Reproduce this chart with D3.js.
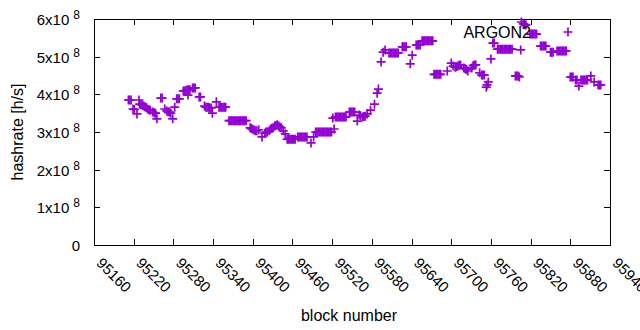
<!DOCTYPE html>
<html><head><meta charset="utf-8">
<script src="https://cdn.jsdelivr.net/npm/d3@7"></script>
<style>
body{margin:0;background:#fff}
text{font-family:"Liberation Sans",Arial,sans-serif;fill:#000}
</style>
</head><body>
<svg id="chart" width="640" height="330"></svg>
<script>
// block numbers and hashrate (h/s)
const blocks = [
 95212,95214,95216,95219,95221,95225,95228,
 95229,95231,95233,95235,95237,95239,95241,95243,95245,
 95249,95251,95253,95255,95261,95263,95267,
 95270,95272,95274,95276,95279,95282,
 95285,95287,95289,95295,95297,95299,95301,95302,95303,95305,
 95309,95311,95313,95319,95321,
 95327,95329,95331,95333,95335,95337,95339,95345,
 95349,95351,95353,95355,95357,95359,
 95364,95366,95368,95370,95372,95374,95376,95378,95380,95382,95384,95386,95388,95390,
 95396,95398,95400,95402,95404,95406,95409,95414,
 95418,95420,95422,95425,95427,95429,95431,95433,95435,95437,
 95439,95441,95443,95446,95449,
 95452,95454,95456,95458,95460,95462,95464,
 95468,95470,95472,95474,95476,95478,95480,95482,
 95488,95492,
 95495,95497,95499,95501,95503,95505,95507,95509,95511,95513,95515,95517,95519,
 95521,95523,
 95525,95527,95529,95531,95533,95535,95537,95539,95541,
 95546,95548,95550,95552,95554,
 95558,95561,95563,95566,95568,95570,95573,95578,95584,95588,95590,
 95594,95597,95600,
 95606,95608,95610,95612,95614,95616,95618,95620,
 95626,95628,95630,95632,
 95638,95641,
 95647,95649,95651,95653,
 95656,95658,95660,95662,95664,95666,95668,95670,95672,
 95674,95676,95678,95680,95682,95684,
 95694,95700,95703,95706,95708,95710,95712,95714,
 95719,95721,95723,95725,95731,95733,95735,95737,
 95743,95746,95748,95750,95753,95754,95756,
 95760,95763,95765,
 95770,95772,95774,95776,95778,95780,95782,95784,95786,95788,95790,95792,
 95797,95799,95801,95803,95805,95806,
 95809,95811,95813,
 95819,95821,95823,95825,95827,95829,
 95835,95837,95839,95841,95843,
 95850,95852,95854,
 95860,95862,95864,95866,95868,95870,95872,95874,
 95880,95882,95884,95888,95890,95893,
 95896,95898,95900,95902,95904,95906,
 95911,95916,95922,95924,95926
];
const hashrate = [
 3.85e8,3.85e8,3.85e8,3.61e8,3.60e8,3.48e8,3.85e8,
 3.74e8,3.73e8,3.71e8,3.69e8,3.67e8,3.65e8,3.61e8,3.59e8,3.58e8,
 3.53e8,3.51e8,3.50e8,3.35e8,3.90e8,3.90e8,3.61e8,
 3.56e8,3.54e8,3.53e8,3.50e8,3.35e8,3.66e8,
 3.88e8,3.88e8,3.88e8,4.09e8,4.09e8,4.10e8,4.12e8,3.98e8,4.12e8,4.12e8,
 4.17e8,4.17e8,4.17e8,3.93e8,3.93e8,
 3.69e8,3.66e8,3.66e8,3.66e8,3.64e8,3.64e8,3.50e8,3.80e8,
 3.66e8,3.66e8,3.66e8,3.66e8,3.66e8,3.66e8,
 3.30e8,3.30e8,3.30e8,3.30e8,3.30e8,3.30e8,3.30e8,3.30e8,3.30e8,3.30e8,3.30e8,3.30e8,3.30e8,3.30e8,
 3.11e8,3.09e8,3.07e8,3.05e8,3.03e8,3.03e8,3.06e8,2.87e8,
 2.97e8,3.00e8,3.00e8,3.03e8,3.08e8,3.10e8,3.11e8,3.16e8,3.17e8,3.19e8,
 3.16e8,3.13e8,3.11e8,3.03e8,2.95e8,
 2.81e8,2.81e8,2.81e8,2.81e8,2.81e8,2.81e8,2.81e8,
 2.87e8,2.87e8,2.87e8,2.87e8,2.87e8,2.87e8,2.87e8,2.87e8,
 2.71e8,2.87e8,
 3.00e8,3.00e8,3.00e8,3.00e8,3.00e8,3.00e8,3.00e8,3.00e8,3.00e8,3.00e8,3.00e8,3.00e8,3.00e8,
 3.37e8,3.08e8,
 3.40e8,3.40e8,3.40e8,3.40e8,3.40e8,3.40e8,3.40e8,3.40e8,3.40e8,
 3.53e8,3.53e8,3.53e8,3.53e8,3.53e8,
 3.29e8,3.45e8,3.43e8,3.40e8,3.41e8,3.42e8,3.48e8,3.58e8,3.74e8,4.03e8,4.14e8,
 4.86e8,5.12e8,5.18e8,
 5.10e8,5.10e8,5.10e8,5.10e8,5.10e8,5.10e8,5.10e8,5.10e8,
 5.26e8,5.26e8,5.26e8,5.26e8,
 4.81e8,5.04e8,
 5.31e8,5.31e8,5.31e8,5.31e8,
 5.42e8,5.42e8,5.42e8,5.42e8,5.42e8,5.42e8,5.42e8,5.42e8,5.42e8,
 4.53e8,4.53e8,4.53e8,4.53e8,4.53e8,4.53e8,
 4.62e8,4.83e8,4.75e8,4.72e8,4.73e8,4.75e8,4.77e8,4.78e8,
 4.70e8,4.68e8,4.66e8,4.62e8,4.70e8,4.76e8,4.78e8,4.78e8,
 4.57e8,4.51e8,4.51e8,4.51e8,4.19e8,4.25e8,4.33e8,
 4.94e8,5.36e8,5.36e8,
 5.20e8,5.20e8,5.20e8,5.20e8,5.20e8,5.20e8,5.20e8,5.20e8,5.20e8,5.20e8,5.20e8,5.20e8,
 4.49e8,4.49e8,4.49e8,4.46e8,5.18e8,5.92e8,
 5.87e8,5.86e8,5.84e8,
 5.60e8,5.60e8,5.60e8,5.60e8,5.60e8,5.60e8,
 5.28e8,5.28e8,5.28e8,5.28e8,5.28e8,
 5.12e8,5.12e8,5.12e8,
 5.15e8,5.15e8,5.15e8,5.15e8,5.15e8,5.15e8,5.15e8,5.15e8,
 4.46e8,4.46e8,4.46e8,4.38e8,4.38e8,4.22e8,
 4.38e8,4.38e8,4.38e8,4.38e8,4.38e8,4.38e8,
 4.49e8,4.33e8,4.25e8,4.25e8,4.25e8
];
const xTickValues = [95160,95220,95280,95340,95400,95460,95520,95580,95640,95700,95760,95820,95880,95940];
const yTickValues = [0,1e8,2e8,3e8,4e8,5e8,6e8];
const yTickMantissa = ["0","1x10","2x10","3x10","4x10","5x10","6x10"];
const yTickExponent = ["","8","8","8","8","8","8"];
const seriesName = "ARGON2";
const xTitle = "block number";
const yTitle = "hashrate [h/s]";

if (blocks.length !== hashrate.length) console.error("length mismatch", blocks.length, hashrate.length);

const L = 94, R = 610, T = 19, B = 245;
const color = "#9400d3";
const svg = d3.select("#chart");

const x = d3.scaleLinear().domain([95160, 95940]).range([L, R]);
const y = d3.scaleLinear().domain([0, 6e8]).range([B, T]);

// bottom axis (inward ticks) with rotated labels
const gx = svg.append("g").attr("transform", `translate(0,${B})`)
  .call(d3.axisBottom(x).tickValues(xTickValues).tickSize(-6).tickFormat(d3.format("d")));
gx.select(".domain").remove();
gx.selectAll("text")
  .attr("x", 0).attr("y", 0).attr("dy", null)
  .attr("text-anchor", "start")
  .attr("transform", "translate(1,19) rotate(45)")
  .style("font-size", "15px").style("font-family", '"Liberation Sans",Arial,sans-serif');

// top mirror ticks
const gxt = svg.append("g").attr("transform", `translate(0,${T})`)
  .call(d3.axisTop(x).tickValues(xTickValues).tickSize(-6).tickFormat(""));
gxt.select(".domain").remove();

// left axis
const gy = svg.append("g").attr("transform", `translate(${L},0)`)
  .call(d3.axisLeft(y).tickValues(yTickValues).tickSize(-6).tickPadding(14).tickFormat(""));
gy.select(".domain").remove();
gy.selectAll(".tick text").each(function(d, i) {
  const t = d3.select(this);
  t.attr("dy", "0.36em").attr("text-anchor", "end")
    .style("font-size", "15px").style("font-family", '"Liberation Sans",Arial,sans-serif');
  t.append("tspan").text(yTickMantissa[i]);
  if (yTickExponent[i]) {
    t.append("tspan").attr("dx", 4).attr("dy", -6).style("font-size", "12px").text(yTickExponent[i]);
  }
});

// right mirror ticks
const gyr = svg.append("g").attr("transform", `translate(${R},0)`)
  .call(d3.axisRight(y).tickValues(yTickValues).tickSize(-6).tickFormat(""));
gyr.select(".domain").remove();

svg.selectAll(".tick line").attr("stroke", "#000").attr("stroke-width", 1).attr("shape-rendering", "crispEdges");

// border
svg.append("rect").attr("x", L).attr("y", T).attr("width", R - L).attr("height", B - T)
  .attr("fill", "none").attr("stroke", "#000").attr("stroke-width", 1).attr("shape-rendering", "crispEdges");

// points
const plus = "M-4.5,0H4.5M0,-4.5V4.5";
svg.append("g").selectAll("path").data(blocks).join("path")
  .attr("transform", (d, i) => `translate(${x(d)},${y(hashrate[i])})`)
  .attr("d", plus).attr("stroke", color).attr("stroke-width", 1.7).attr("fill", "none");

// key
svg.append("text").attr("x", 531).attr("y", 38).attr("text-anchor", "end")
  .style("font-size", "16px").text(seriesName);
svg.append("path").attr("transform", "translate(568,32)").attr("d", plus)
  .attr("stroke", color).attr("stroke-width", 1.7).attr("fill", "none");

// titles
svg.append("text").attr("x", 349).attr("y", 321).attr("text-anchor", "middle")
  .style("font-size", "16px").text(xTitle);
svg.append("text").attr("transform", "translate(23,132) rotate(-90)").attr("text-anchor", "middle")
  .style("font-size", "16px").text(yTitle);
</script>
</body></html>
